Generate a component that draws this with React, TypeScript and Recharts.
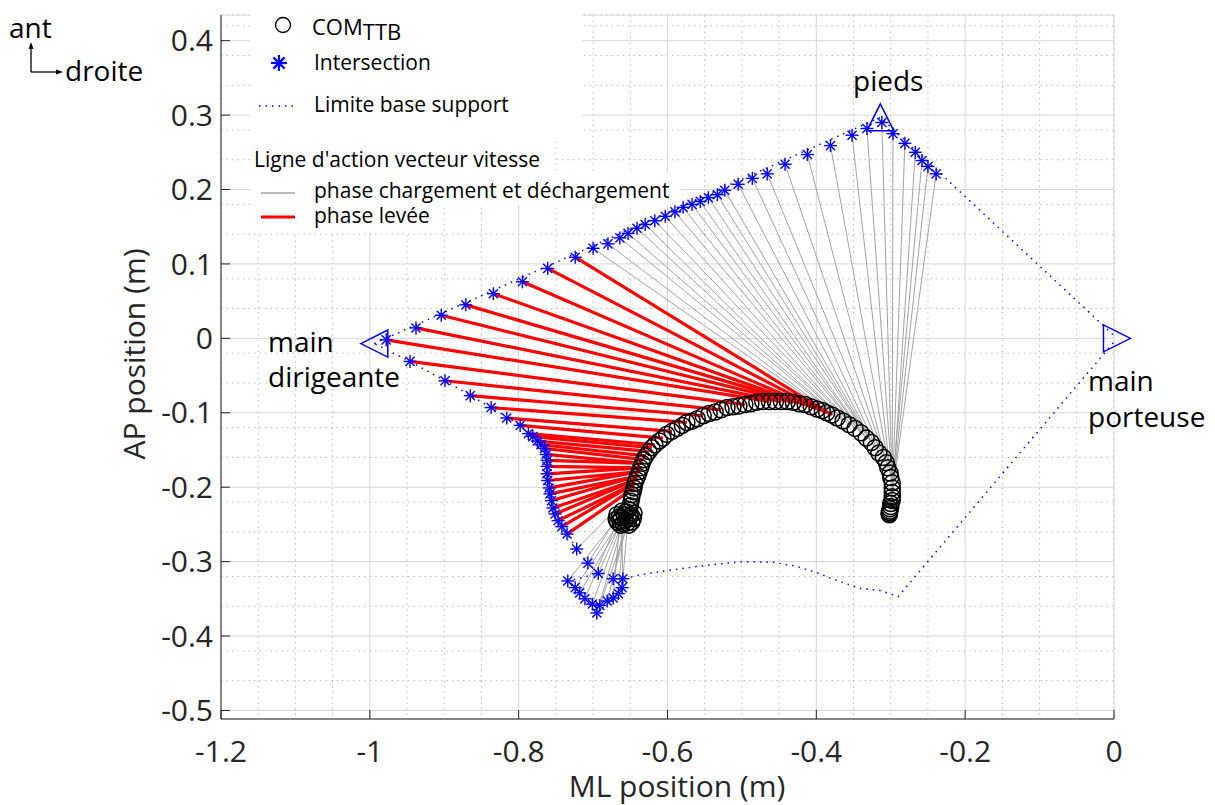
import React from 'react';
import { ScatterChart, Scatter, XAxis, YAxis, CartesianGrid, ReferenceDot } from 'recharts';

const FONT = "'Open Sans', sans-serif";
const AXIS_COLOR = '#262626';

// axes
const xTicks = [-1.2, -1, -0.8, -0.6, -0.4, -0.2, 0];
const yTicks = [-0.5, -0.4, -0.3, -0.2, -0.1, 0, 0.1, 0.2, 0.3, 0.4];
const xDomain = [-1.2, 0];
const yDomain = [-0.5115, 0.4345];

// COM TTB trajectory (m)
const comX = [
  -0.657, -0.662, -0.653, -0.658, -0.664, -0.654, -0.649, -0.66, -0.656, -0.665,
  -0.652, -0.65, -0.649, -0.648, -0.648, -0.646, -0.645, -0.644, -0.642, -0.64,
  -0.638, -0.636, -0.634, -0.632, -0.629, -0.625, -0.621, -0.617, -0.611, -0.606,
  -0.601, -0.594, -0.587, -0.58, -0.574, -0.567, -0.56, -0.552, -0.544, -0.536,
  -0.528, -0.52, -0.512, -0.504, -0.496, -0.488, -0.48, -0.472, -0.463, -0.455,
  -0.447, -0.439, -0.431, -0.423, -0.415, -0.407, -0.399, -0.392, -0.386, -0.379,
  -0.372, -0.364, -0.356, -0.348, -0.34, -0.333, -0.326, -0.321, -0.316, -0.31,
  -0.306, -0.304, -0.301, -0.3, -0.298, -0.298, -0.298, -0.298, -0.298, -0.3,
  -0.3, -0.301, -0.301, -0.302, -0.302, -0.302,
  // standing still at the start
  -0.668, -0.646, -0.667, -0.648, -0.661, -0.652, -0.669, -0.645, -0.663, -0.651,
];
const comY = [
  -0.245, -0.241, -0.242, -0.237, -0.245, -0.248, -0.237, -0.249, -0.233, -0.24,
  -0.23, -0.225, -0.219, -0.214, -0.21, -0.206, -0.201, -0.195, -0.19, -0.185,
  -0.179, -0.174, -0.168, -0.163, -0.158, -0.152, -0.147, -0.143, -0.138, -0.134,
  -0.129, -0.125, -0.121, -0.117, -0.113, -0.111, -0.108, -0.104, -0.101, -0.099,
  -0.096, -0.093, -0.092, -0.091, -0.089, -0.088, -0.086, -0.085, -0.085, -0.085,
  -0.085, -0.085, -0.086, -0.088, -0.089, -0.092, -0.095, -0.097, -0.1, -0.103,
  -0.107, -0.111, -0.116, -0.121, -0.127, -0.134, -0.14, -0.147, -0.154, -0.16,
  -0.167, -0.174, -0.181, -0.187, -0.194, -0.201, -0.207, -0.213, -0.218, -0.222,
  -0.226, -0.229, -0.232, -0.234, -0.236, -0.237,
  -0.237, -0.242, -0.247, -0.247, -0.232, -0.251, -0.243, -0.235, -0.251, -0.238,
];

// intersections of the velocity line of action with the base of support
const intX = [
  -0.673, -0.66, -0.661, -0.666, -0.673, -0.681, -0.691, -0.695, -0.701, -0.711,
  -0.718, -0.724, -0.734, -0.693, -0.707, -0.722,
  -0.735, -0.742, -0.747, -0.751, -0.754, -0.756, -0.758, -0.759, -0.761, -0.762,
  -0.762, -0.762, -0.763, -0.765, -0.77, -0.775, -0.781, -0.787, -0.798, -0.816,
  -0.837, -0.865, -0.899, -0.946, -0.978, -0.938, -0.904, -0.871, -0.834, -0.795,
  -0.761, -0.724,
  -0.7, -0.68, -0.664, -0.653, -0.641, -0.63, -0.617, -0.603, -0.59, -0.579,
  -0.567, -0.556, -0.545, -0.533, -0.523, -0.505, -0.486, -0.466, -0.442, -0.412,
  -0.381, -0.352, -0.332, -0.312, -0.297, -0.281, -0.267, -0.258, -0.25, -0.239,
];
const intY = [
  -0.323, -0.323, -0.335, -0.343, -0.349, -0.353, -0.359, -0.369, -0.357, -0.35,
  -0.342, -0.335, -0.326, -0.316, -0.302, -0.283,
  -0.263, -0.253, -0.245, -0.236, -0.228, -0.218, -0.209, -0.201, -0.191, -0.182,
  -0.172, -0.164, -0.156, -0.148, -0.143, -0.138, -0.132, -0.128, -0.117, -0.107,
  -0.093, -0.077, -0.057, -0.031, -0.002, 0.014, 0.031, 0.045, 0.06, 0.076,
  0.094, 0.109,
  0.121, 0.127, 0.135, 0.141, 0.148, 0.153, 0.158, 0.164, 0.17, 0.176,
  0.18, 0.184, 0.189, 0.193, 0.199, 0.207, 0.215, 0.221, 0.234, 0.247,
  0.259, 0.273, 0.282, 0.29, 0.275, 0.262, 0.25, 0.239, 0.231, 0.221,
];
// index of the COM sample each intersection belongs to
const intCom = [
  0, 1, 2, 3, 4, 5, 6, 7, 8, 9, 10, 11, 12, 13, 14, 15,
  16, 17, 17, 18, 18, 19, 19, 20, 20, 21, 21, 22, 22, 23, 24, 25, 26, 27, 29, 31,
  34, 37, 40, 44, 48, 50, 52, 54, 55, 56, 58, 59,
  60, 60, 61, 61, 62, 62, 63, 63, 64, 64, 65, 65, 66, 66, 67, 67, 68, 69, 70, 71,
  72, 73, 74, 75, 76, 77, 78, 79, 80, 82,
];
// number of intersections in: chargement, levée, déchargement
const phaseSizes = [16, 32, 30];

// base of support outline
const baseX = [
  -0.994, -0.314, 0.004, -0.29, -0.314, -0.341, -0.371, -0.399, -0.428, -0.458,
  -0.496, -0.529, -0.563, -0.601, -0.637, -0.66, -0.661, -0.673, -0.695, -0.711,
  -0.734, -0.693, -0.707, -0.722, -0.735, -0.751, -0.759, -0.762, -0.765, -0.781,
  -0.798, -0.837, -0.899, -0.946, -0.994,
];
const baseY = [
  -0.007, 0.297, 0, -0.347, -0.339, -0.336, -0.326, -0.315, -0.306, -0.301,
  -0.3, -0.303, -0.307, -0.312, -0.318, -0.323, -0.335, -0.349, -0.369, -0.35,
  -0.326, -0.316, -0.302, -0.283, -0.263, -0.236, -0.201, -0.164, -0.148, -0.132,
  -0.117, -0.093, -0.057, -0.031, -0.007,
];

// hands and feet
const markX = [-0.994, -0.314, 0.004];
const markY = [-0.007, 0.297, 0];
const markDir = ['left', 'up', 'right'];

// minor grid
const minorX: number[] = [];
for (let i = -24; i <= 0; i++) if (i % 4 !== 0) minorX.push(+(i * 0.05).toFixed(2));
const minorY: number[] = [];
for (let i = -25; i <= 21; i++) if (i % 5 !== 0) minorY.push(+(i * 0.02).toFixed(2));

const toPoints = (xs: number[], ys: number[]) => xs.map((x, i) => ({ x, y: ys[i] }));

const noMarker = () => null;

const Ring = (p: any) => (
  <circle cx={p.cx} cy={p.cy} r={8} fill="none" stroke="#000" strokeWidth={1.5} />
);

const Star = ({ cx, cy, a = 6.5, w = 1.4 }: any) => {
  const d = a * 0.7;
  return (
    <g stroke="#0000ff" strokeWidth={w}>
      <line x1={cx - a} y1={cy} x2={cx + a} y2={cy} />
      <line x1={cx} y1={cy - a} x2={cx} y2={cy + a} />
      <line x1={cx - d} y1={cy - d} x2={cx + d} y2={cy + d} />
      <line x1={cx - d} y1={cy + d} x2={cx + d} y2={cy - d} />
    </g>
  );
};

const triangle = (dir: string) => (p: any) => {
  const { cx, cy } = p;
  const s = 13.5;
  let pts = '';
  if (dir === 'up') pts = `${cx},${cy - s} ${cx - s},${cy + s} ${cx + s},${cy + s}`;
  else if (dir === 'left') pts = `${cx - s},${cy} ${cx + s},${cy - s} ${cx + s},${cy + s}`;
  else pts = `${cx + s},${cy} ${cx - s},${cy - s} ${cx - s},${cy + s}`;
  return <polygon points={pts} fill="none" stroke="#0000ff" strokeWidth={1.5} />;
};

const tickStyle = { fontSize: 30, fill: AXIS_COLOR, fontFamily: FONT };

export default function App() {
  const nLoad = phaseSizes[0];
  const nLift = phaseSizes[1];
  const segments = intX.map((x, i) => ({
    key: i,
    lift: i >= nLoad && i < nLoad + nLift,
    pts: [
      { x: comX[intCom[i]], y: comY[intCom[i]] },
      { x, y: intY[i] },
    ],
  }));

  return (
    <div style={{ position: 'absolute', left: 0, top: 0, width: 1215, height: 805, background: '#fff' }}>
      <ScatterChart width={1215} height={805} margin={{ top: 15, right: 101, bottom: 0, left: 0 }}>
        <XAxis xAxisId="minor" type="number" dataKey="x" domain={xDomain} ticks={minorX} hide allowDataOverflow />
        <YAxis yAxisId="minor" type="number" dataKey="y" domain={yDomain} ticks={minorY} hide allowDataOverflow />
        <CartesianGrid xAxisId="minor" yAxisId="minor" stroke="#bcbcbc" strokeDasharray="1.5 4" />
        <CartesianGrid stroke="#d6d6d6" />
        <XAxis
          type="number"
          dataKey="x"
          domain={xDomain}
          ticks={xTicks}
          interval={0}
          allowDataOverflow
          height={86}
          stroke={AXIS_COLOR}
          tickSize={-9}
          tickMargin={31}
          tick={tickStyle}
        />
        <YAxis
          type="number"
          dataKey="y"
          domain={yDomain}
          ticks={yTicks}
          interval={0}
          allowDataOverflow
          width={221}
          stroke={AXIS_COLOR}
          tickSize={-9}
          tickMargin={17}
          tick={tickStyle}
        />
        {segments.filter((s) => !s.lift).map((s) => (
          <Scatter
            key={'g' + s.key}
            data={s.pts}
            fill="#a3a3a3"
            line={{ stroke: '#a3a3a3', strokeWidth: 1 }}
            shape={noMarker}
            isAnimationActive={false}
          />
        ))}
        {segments.filter((s) => s.lift).map((s) => (
          <Scatter
            key={'r' + s.key}
            data={s.pts}
            fill="#ff0000"
            line={{ stroke: '#ff0000', strokeWidth: 3.2 }}
            shape={noMarker}
            isAnimationActive={false}
          />
        ))}
        <Scatter data={toPoints(comX, comY)} shape={Ring} isAnimationActive={false} />
        <Scatter
          data={toPoints(baseX, baseY)}
          fill="#0000ff"
          line={{ stroke: '#0000ff', strokeWidth: 1.5, strokeDasharray: '1.5 5' }}
          shape={noMarker}
          isAnimationActive={false}
        />
        <Scatter data={toPoints(intX, intY)} shape={Star} isAnimationActive={false} />
        {markX.map((x, i) => (
          <ReferenceDot key={'m' + i} x={x} y={markY[i]} r={1} ifOverflow="visible" shape={triangle(markDir[i])} />
        ))}
      </ScatterChart>

      <svg
        width={1215}
        height={805}
        style={{ position: 'absolute', left: 0, top: 0, pointerEvents: 'none' }}
        fontFamily={FONT}
      >
        {/* orientation */}
        <text x={9} y={38} fontSize={28} fill="#000">ant</text>
        <text x={65} y={81} fontSize={28} fill="#000">droite</text>
        <g stroke="#000" strokeWidth={1.3}>
          <line x1={31} y1={72} x2={31} y2={48} />
          <line x1={31} y1={72} x2={57} y2={72} />
        </g>
        <polygon points="31,42 28.5,49 33.5,49" fill="#000" />
        <polygon points="63,72 56,69.5 56,74.5" fill="#000" />

        {/* legend */}
        <rect x={250} y={12} width={332} height={126} fill="#fff" />
        <rect x={250} y={138} width={303} height={34} fill="#fff" />
        <rect x={250} y={172} width={431} height={33} fill="#fff" />
        <rect x={250} y={205} width={190} height={28} fill="#fff" />
        <circle cx={283} cy={25} r={7.5} fill="none" stroke="#000" strokeWidth={1.3} />
        <text x={312} y={35} fontSize={22} fill="#000">
          COM<tspan dy={5}>TTB</tspan>
        </text>
        <Star cx={279} cy={63} a={8} w={2.2} />
        <text x={314} y={70} fontSize={21} fill="#000">Intersection</text>
        <line x1={259} y1={106} x2={293} y2={106} stroke="#0000ff" strokeWidth={1.5} strokeDasharray="1.5 5" />
        <text x={314} y={112} fontSize={21} fill="#000">Limite base support</text>
        <text x={254} y={167} fontSize={21} fill="#000">Ligne d'action vecteur vitesse</text>
        <line x1={261} y1={193} x2={295} y2={193} stroke="#a3a3a3" strokeWidth={1.5} />
        <text x={314} y={198} fontSize={21} fill="#000">phase chargement et déchargement</text>
        <line x1={261} y1={217} x2={295} y2={217} stroke="#ff0000" strokeWidth={3.2} />
        <text x={314} y={223} fontSize={21} fill="#000">phase levée</text>

        {/* annotations */}
        <text x={853} y={91} fontSize={28} fill="#000">pieds</text>
        <text x={268} y={352} fontSize={28} fill="#000">main</text>
        <text x={268} y={387} fontSize={28} fill="#000">dirigeante</text>
        <text x={1088} y={391} fontSize={28} fill="#000">main</text>
        <text x={1088} y={427} fontSize={28} fill="#000">porteuse</text>

        {/* axis titles */}
        <text x={677} y={797} fontSize={30} fill={AXIS_COLOR} textAnchor="middle">ML position (m)</text>
        <text transform="translate(145,354) rotate(-90)" fontSize={30} fill={AXIS_COLOR} textAnchor="middle">
          AP position (m)
        </text>
      </svg>
    </div>
  );
}
